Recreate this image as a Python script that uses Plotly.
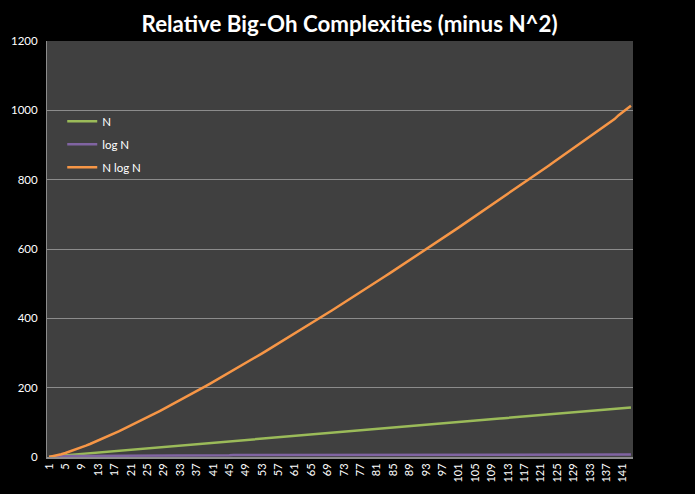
import plotly.graph_objects as go

# ---- data ----
n_values = [1, 2, 3, 4, 5, 6, 7, 8, 9, 10, 11, 12, 13, 14, 15, 16, 17, 18, 19, 20,
            21, 22, 23, 24, 25, 26, 27, 28, 29, 30, 31, 32, 33, 34, 35, 36, 37, 38, 39, 40,
            41, 42, 43, 44, 45, 46, 47, 48, 49, 50, 51, 52, 53, 54, 55, 56, 57, 58, 59, 60,
            61, 62, 63, 64, 65, 66, 67, 68, 69, 70, 71, 72, 73, 74, 75, 76, 77, 78, 79, 80,
            81, 82, 83, 84, 85, 86, 87, 88, 89, 90, 91, 92, 93, 94, 95, 96, 97, 98, 99, 100,
            101, 102, 103, 104, 105, 106, 107, 108, 109, 110, 111, 112, 113, 114, 115, 116,
            117, 118, 119, 120, 121, 122, 123, 124, 125, 126, 127, 128, 129, 130, 131, 132,
            133, 134, 135, 136, 137, 138, 139, 140, 141, 142, 143]

log_n_values = [0, 1, 2, 2, 2, 3, 3, 3, 3, 3, 3, 4, 4, 4, 4, 4, 4, 4, 4, 4,
                4, 4, 5, 5, 5, 5, 5, 5, 5, 5, 5, 5, 5, 5, 5, 5, 5, 5, 5, 5,
                5, 5, 5, 5, 5, 6, 6, 6, 6, 6, 6, 6, 6, 6, 6, 6, 6, 6, 6, 6,
                6, 6, 6, 6, 6, 6, 6, 6, 6, 6, 6, 6, 6, 6, 6, 6, 6, 6, 6, 6,
                6, 6, 6, 6, 6, 6, 6, 6, 6, 6, 7, 7, 7, 7, 7, 7, 7, 7, 7, 7,
                7, 7, 7, 7, 7, 7, 7, 7, 7, 7, 7, 7, 7, 7, 7, 7, 7, 7, 7, 7,
                7, 7, 7, 7, 7, 7, 7, 7, 7, 7, 7, 7, 7, 7, 7, 7, 7, 7, 7, 7,
                7, 7, 7]

n_log_n_values = [0, 2, 4.7, 7.9, 11.4, 15.3, 19.4, 23.6, 28.1, 32.7,
                  37.5, 42.4, 47.4, 52.5, 57.7, 63, 68.5, 73.9, 79.5, 85.1,
                  90.8, 96.6, 102.4, 108.4, 114.4, 120.4, 126.5, 132.6, 138.8, 145,
                  151.3, 157.6, 164, 170.4, 176.8, 183.3, 189.8, 196.4, 203, 209.7,
                  216.4, 223.1, 229.8, 236.6, 243.4, 250.3, 257.2, 264.1, 271, 278,
                  285, 292, 299, 306.1, 313.2, 320.3, 327.5, 334.7, 341.9, 349.1,
                  356.4, 363.7, 371, 378.2, 385.7, 392.9, 400.3, 407.7, 415.2, 422.6,
                  430, 437.5, 445.1, 452.6, 460.2, 467.7, 475.3, 482.9, 490.5, 498.2,
                  505.8, 513.5, 521.2, 528.9, 536.6, 544.4, 552.1, 559.9, 567.6, 575.5,
                  583.3, 591.2, 599.1, 606.9, 614.8, 622.7, 630.6, 638.6, 646.5, 654.4,
                  662.4, 670.4, 678.4, 686.4, 694.4, 702.5, 710.5, 718.6, 726.6, 734.7,
                  742.8, 751, 759.1, 767.2, 775.4, 783.6, 791.7, 800, 808.2, 816.4,
                  824.6, 832.9, 841.1, 849.4, 857.6, 865.9, 874.3, 882.6, 890.8, 899.2,
                  907.6, 915.9, 924.3, 932.8, 941.1, 949.4, 957.8, 966.3, 974.8, 986,
                  995, 1004, 1013]

categories = [str(v) for v in n_values]
x_tick_labels = categories[::4]
y_ticks = [0, 200, 400, 600, 800, 1000, 1200]

series_names = ["N", "log N", "N log N"]
series_colors = ["#9BBB59", "#8064A2", "#F79646"]
series_values = [n_values, log_n_values, n_log_n_values]

FONT = "Lato, 'Open Sans', sans-serif"

fig = go.Figure()
for i, (name, color, vals) in enumerate(zip(series_names, series_colors, series_values)):
    fig.add_trace(go.Scatter(
        x=categories, y=vals, name=name, mode="lines",
        line=dict(color=color, width=2.5),
        legendgroup=f"g{i}",
    ))

fig.update_layout(
    width=695, height=494,
    paper_bgcolor="#000000",
    plot_bgcolor="#404040",
    margin=dict(l=47, r=62, t=41, b=37, autoexpand=False),
    font=dict(family=FONT, color="#FFFFFF", size=11),
    title=dict(
        text="<b>Relative Big-Oh Complexities (minus N^2)</b>",
        font=dict(family=FONT, size=22.3, color="#FFFFFF"),
        x=0.503, xanchor="center", xref="container",
        y=1 - 24 / 494, yanchor="middle", yref="container",
    ),
    showlegend=True,
    legend=dict(
        x=0.026, y=0.842, xanchor="left", yanchor="top",
        bgcolor="rgba(0,0,0,0)",
        font=dict(family=FONT, size=11.5, color="#FFFFFF"),
        tracegroupgap=4,
        itemwidth=30,
    ),
    xaxis=dict(
        type="category",
        range=[-0.5, len(categories) - 0.5],
        tickmode="array",
        tickvals=x_tick_labels,
        ticktext=x_tick_labels,
        tickangle=-90,
        showgrid=False,
        zeroline=False,
        showline=True, linecolor="#8C8C8C", linewidth=2,
        ticks="", automargin=False,
        tickfont=dict(family=FONT, size=11, color="#FFFFFF"),
    ),
    yaxis=dict(
        range=[0, 1200],
        tickvals=y_ticks,
        showgrid=True, gridcolor="#8C8C8C", gridwidth=1,
        zeroline=False,
        showline=True, linecolor="#8C8C8C", linewidth=1,
        ticks="outside", ticklen=6, tickcolor="rgba(0,0,0,0)",
        automargin=False,
        tickfont=dict(family=FONT, size=11.5, color="#FFFFFF"),
    ),
)

fig.write_html("out.html")
